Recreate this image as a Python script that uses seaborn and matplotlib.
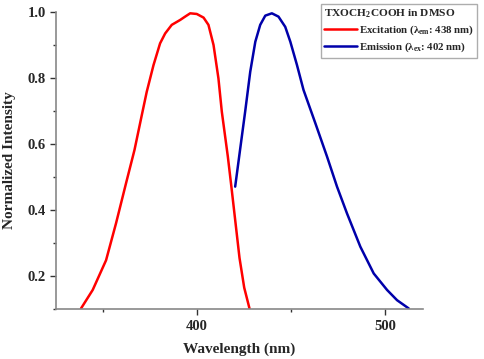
import numpy as np
import pandas as pd
import matplotlib
matplotlib.use("Agg")
import matplotlib.pyplot as plt
from matplotlib.ticker import MultipleLocator
import seaborn as sns

# values
exc_wl = [338.3, 344.5, 351.6, 356.9, 362.2, 366.7, 370.6, 373.2, 376.8, 380.3,
          383.0, 386.5, 391.0, 393.6, 396.3, 399.8, 403.4, 406.0, 408.7, 411.3,
          413.1, 416.3, 418.2, 419.9, 422.5, 425.0, 427.8]
exc_int = [0.102, 0.158, 0.248, 0.360, 0.481, 0.582, 0.688, 0.758, 0.839, 0.905,
           0.935, 0.961, 0.976, 0.986, 0.996, 0.994, 0.983, 0.961, 0.900, 0.799,
           0.698, 0.562, 0.470, 0.385, 0.255, 0.165, 0.102]

em_wl = [420.2, 422.9, 425.5, 428.2, 430.9, 433.5, 436.2, 439.7, 443.2, 446.8,
         449.5, 453.0, 456.5, 462.8, 469.0, 474.3, 479.6, 486.7, 493.8, 500.9,
         506.2, 512.4]
em_int = [0.471, 0.587, 0.698, 0.819, 0.910, 0.961, 0.989, 0.996, 0.986, 0.955,
          0.910, 0.840, 0.764, 0.663, 0.562, 0.471, 0.390, 0.289, 0.208, 0.158,
          0.127, 0.102]

series_names = ["Excitation (λ$_{\\rm em}$: 438 nm)",
                "Emission (λ$_{\\rm ex}$: 402 nm)"]
legend_title = "TXOCH$_{\\rm 2}$COOH in DMSO"

df = pd.concat([
    pd.DataFrame({"wl": exc_wl, "val": exc_int, "kind": series_names[0]}),
    pd.DataFrame({"wl": em_wl, "val": em_int, "kind": series_names[1]}),
])

sns.set_style("ticks")
plt.rcParams["font.family"] = ["Liberation Serif", "DejaVu Serif"]
plt.rcParams["mathtext.fontset"] = "custom"
plt.rcParams["mathtext.rm"] = "Liberation Serif:bold"
plt.rcParams["mathtext.it"] = "Liberation Serif:bold"

fig = plt.figure(figsize=(4.84, 3.59), dpi=100)
ax = fig.add_axes([0.1157, 0.139, 0.874 - 0.1157, 0.9666 - 0.139])

sns.lineplot(data=df, x="wl", y="val", hue="kind", sort=False, estimator=None,
             palette=["#ff0000", "#0000aa"], linewidth=1.8, ax=ax)

ax.set_xlim(325, 520)
ax.set_ylim(0.1, 1.0)
ax.xaxis.set_major_locator(MultipleLocator(100))
ax.xaxis.set_minor_locator(MultipleLocator(50))
ax.yaxis.set_major_locator(MultipleLocator(0.2))
ax.yaxis.set_minor_locator(MultipleLocator(0.1))
ax.set_yticks([0.2, 0.4, 0.6, 0.8, 1.0])
ax.tick_params(which="major", length=4, width=1, color="#333333", labelsize=10.5)
ax.tick_params(which="minor", length=2.5, width=1, color="#333333")
for lbl in ax.get_xticklabels() + ax.get_yticklabels():
    lbl.set_fontweight("bold")

for s in ["top", "right"]:
    ax.spines[s].set_visible(False)
for s in ["left", "bottom"]:
    ax.spines[s].set_color("#888888")
    ax.spines[s].set_linewidth(1.2)

ax.set_xlabel("Wavelength (nm)", fontsize=11, fontweight="bold", labelpad=7)
ax.set_ylabel("Normalized Intensity", fontsize=11, fontweight="bold", labelpad=8)

leg = ax.legend(title=legend_title, loc="upper right",
                bbox_to_anchor=(477 / 484, 1 - 4 / 359), bbox_transform=fig.transFigure,
                fontsize=7.8, title_fontsize=8.2, frameon=True, fancybox=False,
                handlelength=3.0, handletextpad=0.15, borderpad=0.3,
                labelspacing=0.35, borderaxespad=0)
leg.get_frame().set_edgecolor("#999999")
leg.get_frame().set_linewidth(1.0)
leg.get_title().set_fontweight("bold")
for t in leg.get_texts():
    t.set_fontweight("bold")
leg._legend_box.align = "left"

fig.savefig("out.png", dpi=100)
